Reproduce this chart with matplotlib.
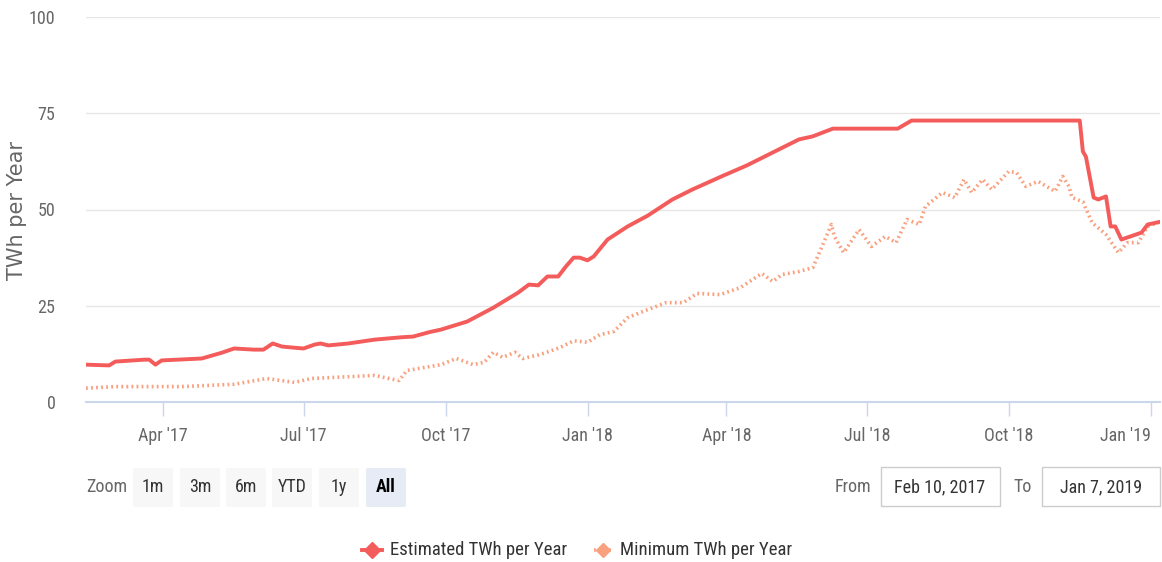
import matplotlib
matplotlib.use("Agg")
import matplotlib.pyplot as plt
from matplotlib import font_manager
from matplotlib.patches import Rectangle, FancyBboxPatch
from matplotlib.lines import Line2D
import pandas as pd

# ---------------- data ----------------
est_dates = ["2017-02-10", "2017-02-25", "2017-03-01", "2017-03-20", "2017-03-23", "2017-03-27",
             "2017-03-31", "2017-04-26", "2017-05-09", "2017-05-17", "2017-05-30", "2017-06-05",
             "2017-06-11", "2017-06-17", "2017-06-25", "2017-07-01", "2017-07-08", "2017-07-12",
             "2017-07-17", "2017-07-30", "2017-08-16", "2017-09-02", "2017-09-10", "2017-09-21",
             "2017-09-28", "2017-10-15", "2017-11-01", "2017-11-17", "2017-11-24", "2017-11-30",
             "2017-12-06", "2017-12-13", "2017-12-18", "2017-12-23", "2017-12-27", "2018-01-01",
             "2018-01-05", "2018-01-14", "2018-01-27", "2018-02-09", "2018-02-25", "2018-03-10",
             "2018-03-30", "2018-04-14", "2018-05-01", "2018-05-18", "2018-05-27", "2018-06-09",
             "2018-07-21", "2018-07-30", "2018-11-16", "2018-11-18", "2018-11-20", "2018-11-25",
             "2018-11-28", "2018-12-03", "2018-12-06", "2018-12-09", "2018-12-13", "2018-12-26",
             "2018-12-30", "2019-01-07"]
est_values = [9.7, 9.5, 10.5, 11.0, 11.0, 9.7,
              10.8, 11.3, 12.8, 13.9, 13.6, 13.6,
              15.2, 14.4, 14.1, 13.9, 14.9, 15.2,
              14.7, 15.2, 16.2, 16.8, 17.0, 18.2,
              18.8, 20.9, 24.5, 28.4, 30.5, 30.3,
              32.6, 32.6, 35.2, 37.5, 37.5, 36.8,
              37.8, 42.2, 45.6, 48.4, 52.6, 55.2,
              58.8, 61.4, 64.8, 68.2, 69.0, 71.0,
              71.0, 73.1, 73.1, 65.1, 63.7, 53.1,
              52.6, 53.4, 45.6, 45.6, 42.2, 44.0,
              46.1, 46.8]

min_dates = ["2017-02-10", "2017-03-01", "2017-04-13", "2017-05-17", "2017-06-07", "2017-06-25",
             "2017-07-06", "2017-08-16", "2017-08-29", "2017-09-01", "2017-09-06", "2017-09-28",
             "2017-10-08", "2017-10-19", "2017-10-26", "2017-11-01", "2017-11-07", "2017-11-15",
             "2017-11-20", "2017-12-01", "2017-12-14", "2017-12-23", "2018-01-01", "2018-01-09",
             "2018-01-18", "2018-01-27", "2018-02-09", "2018-02-21", "2018-03-04", "2018-03-13",
             "2018-03-28", "2018-04-10", "2018-04-24", "2018-05-01", "2018-05-07", "2018-05-18",
             "2018-05-27", "2018-06-02", "2018-06-08", "2018-06-10", "2018-06-16", "2018-06-26",
             "2018-07-04", "2018-07-13", "2018-07-20", "2018-07-27", "2018-08-04", "2018-08-08",
             "2018-08-19", "2018-08-27", "2018-09-02", "2018-09-07", "2018-09-14", "2018-09-20",
             "2018-10-01", "2018-10-06", "2018-10-12", "2018-10-20", "2018-10-31", "2018-11-05",
             "2018-11-09", "2018-11-11", "2018-11-18", "2018-11-24", "2018-12-03", "2018-12-11",
             "2018-12-17", "2018-12-24", "2018-12-30", "2019-01-07"]
min_values = [3.6, 4.0, 4.0, 4.6, 6.1, 5.1,
              6.1, 6.9, 5.8, 5.6, 8.2, 9.7,
              11.3, 9.7, 10.3, 12.9, 11.6, 12.9,
              11.3, 12.3, 14.1, 15.9, 15.5, 17.5,
              18.3, 21.9, 24.0, 25.8, 25.8, 28.2,
              27.9, 29.7, 33.4, 31.3, 33.1, 33.9,
              34.9, 40.4, 46.1, 43.0, 38.8, 44.8,
              40.4, 43.0, 41.4, 47.4, 46.1, 50.8,
              54.4, 53.1, 57.8, 54.4, 57.8, 55.2,
              59.9, 59.6, 56.0, 57.3, 54.7, 58.6,
              56.0, 53.1, 52.0, 46.6, 43.5, 38.8,
              41.4, 41.4, 45.6, 46.8]

y_ticks = [0, 25, 50, 75, 100]
x_tick_dates = ["2017-04-01", "2017-07-01", "2017-10-01", "2018-01-01",
                "2018-04-01", "2018-07-01", "2018-10-01", "2019-01-01"]
x_tick_labels = ["Apr '17", "Jul '17", "Oct '17", "Jan '18",
                 "Apr '18", "Jul '18", "Oct '18", "Jan '19"]
series_names = ["Estimated TWh per Year", "Minimum TWh per Year"]
zoom_buttons = ["1m", "3m", "6m", "YTD", "1y", "All"]
range_from = "Feb 10, 2017"
range_to = "Jan 7, 2019"

# ---------------- style ----------------
EST_COLOR = "#f45b5b"
MIN_COLOR = "#f9a07e"
GRID = "#e6e6e6"
AXIS = "#ccd6eb"
TXT = "#666666"

avail = {f.name for f in font_manager.fontManager.ttflist}
narrow = next((f for f in ["Liberation Sans Narrow", "Roboto Condensed", "Open Sans Condensed",
                           "Roboto", "DejaVu Sans"] if f in avail), "DejaVu Sans")
FAM = [narrow, "DejaVu Sans"]

W, H = 1162, 562
fig = plt.figure(figsize=(W / 100, H / 100), dpi=100)
fig.patch.set_facecolor("white")

def fx(x):
    return x / W

def fy(y):
    return 1 - y / H

ax = fig.add_axes([fx(86), fy(402), fx(1160) - fx(86), fy(17) - fy(402)])

ed = pd.to_datetime(est_dates)
md = pd.to_datetime(min_dates)
ax.plot(md, min_values, color=MIN_COLOR, lw=2.6, linestyle=(0, (0.5, 0.9)), zorder=3)
ax.plot(ed, est_values, color=EST_COLOR, lw=2.8, solid_joinstyle="round",
        solid_capstyle="round", zorder=4)

ax.set_xlim(pd.Timestamp("2017-02-10"), pd.Timestamp("2019-01-07"))
ax.set_ylim(0, 100)
ax.set_yticks(y_ticks)
ax.set_yticklabels([str(v) for v in y_ticks], fontsize=13, color=TXT, family=FAM)
ax.set_xticks(pd.to_datetime(x_tick_dates))
ax.set_xticklabels(x_tick_labels, fontsize=13, color=TXT, family=FAM)
ax.get_xticklabels()[-1].set_horizontalalignment("right")
ax.get_xticklabels()[-1].set_x(0)
ax.tick_params(axis="y", length=0, pad=22)
ax.tick_params(axis="x", length=10, width=1, color=AXIS, pad=8)
ax.grid(axis="y", color=GRID, lw=1)
ax.set_axisbelow(True)
for s in ["top", "right", "left"]:
    ax.spines[s].set_visible(False)
ax.spines["bottom"].set_color(AXIS)
ax.spines["bottom"].set_linewidth(1.5)
fig.text(fx(17), fy(210), "TWh per Year", rotation=90, fontsize=15, color=TXT,
         ha="center", va="center")

# ---------------- range selector ----------------
fig.text(fx(107), fy(487), "Zoom", fontsize=13, color=TXT, ha="center", va="center", family=FAM)
bx = [133, 180, 226, 272, 319, 366]
for lab, x0 in zip(zoom_buttons, bx):
    sel = lab == "All"
    fig.patches.append(FancyBboxPatch((fx(x0), fy(507)), fx(40), fy(468) - fy(507),
                                      boxstyle="round,pad=0,rounding_size=0.002",
                                      transform=fig.transFigure,
                                      facecolor="#e6ebf5" if sel else "#f7f7f7",
                                      edgecolor="none"))
    fig.text(fx(x0 + 20), fy(487), lab, fontsize=13, color="#000000" if sel else "#333333",
             fontweight="bold" if sel else "normal", ha="center", va="center", family=FAM)

fig.text(fx(853), fy(487), "From", fontsize=13, color=TXT, ha="center", va="center", family=FAM)
fig.patches.append(Rectangle((fx(881), fy(506)), fx(119), fy(467) - fy(506),
                             transform=fig.transFigure, facecolor="white", edgecolor="#cccccc", lw=1))
fig.text(fx(940), fy(487), range_from, fontsize=13, color="#333333", ha="center", va="center",
         family=FAM)
fig.text(fx(1023), fy(487), "To", fontsize=13, color=TXT, ha="center", va="center", family=FAM)
fig.patches.append(Rectangle((fx(1042), fy(506)), fx(118), fy(467) - fy(506),
                             transform=fig.transFigure, facecolor="white", edgecolor="#cccccc", lw=1))
fig.text(fx(1101), fy(487), range_to, fontsize=13, color="#333333", ha="center", va="center",
         family=FAM)

# ---------------- legend ----------------
fig.lines.append(Line2D([fx(362), fx(382)], [fy(550), fy(550)], transform=fig.transFigure,
                        color=EST_COLOR, lw=2.8))
fig.lines.append(Line2D([fx(372)], [fy(550)], transform=fig.transFigure, color=EST_COLOR,
                        marker="D", markersize=8, lw=0))
fig.text(fx(390), fy(550), series_names[0], fontsize=13.5, color="#333333", ha="left", va="center",
         family=FAM)
fig.lines.append(Line2D([fx(594), fx(612)], [fy(550), fy(550)], transform=fig.transFigure,
                        color=MIN_COLOR, lw=2.6, linestyle=(0, (0.5, 0.9))))
fig.lines.append(Line2D([fx(603)], [fy(550)], transform=fig.transFigure, color=MIN_COLOR,
                        marker="D", markersize=7, lw=0))
fig.text(fx(620), fy(550), series_names[1], fontsize=13.5, color="#333333", ha="left", va="center",
         family=FAM)

fig.savefig("out.png", dpi=100, facecolor="white")
